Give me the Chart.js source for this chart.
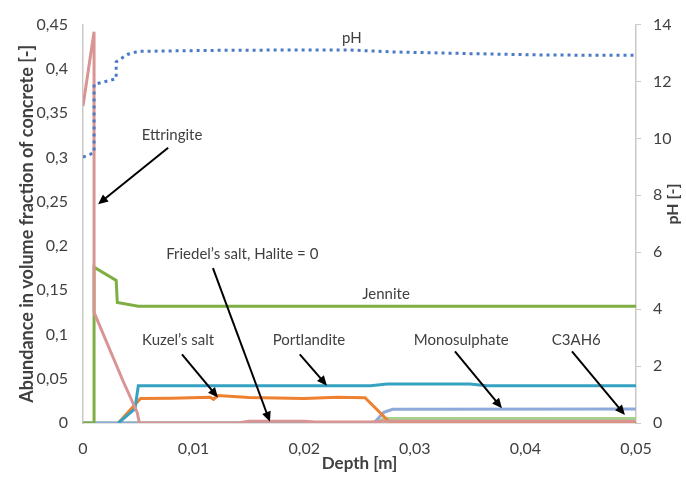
<!DOCTYPE html>
<html>
<head>
<meta charset="utf-8">
<script src="https://cdn.jsdelivr.net/npm/chart.js@4/dist/chart.umd.min.js"></script>
<style>
  body { margin: 0; background: #fff; }
  #wrap { width: 686px; height: 486px; position: relative; }
</style>
</head>
<body>
<div id="wrap"><canvas id="myChart"></canvas></div>
<script>
// depth [m] and abundance values
var ettringiteDepth = [0, 0.001, 0.001, 0.0036, 0.0049, 0.0051, 0.014, 0.015, 0.02, 0.021, 0.026, 0.027, 0.05];
var ettringiteValue = [0.358, 0.442, 0.125, 0.048, 0.012, 0, 0, 0.002, 0.002, 0.001, 0.001, 0.002, 0.002];

var jenniteDepth = [0, 0.001, 0.001, 0.003, 0.0031, 0.005, 0.05];
var jenniteValue = [0, 0, 0.176, 0.161, 0.136, 0.132, 0.132];

var portlanditeDepth = [0.0032, 0.0047, 0.005, 0.015, 0.026, 0.0275, 0.035, 0.0365, 0.05];
var portlanditeValue = [0, 0.016, 0.042, 0.042, 0.042, 0.044, 0.044, 0.042, 0.042];

var kuzelDepth = [0.0032, 0.0052, 0.008, 0.0115, 0.0118, 0.0122, 0.015, 0.02, 0.023, 0.0255, 0.0278, 0.05];
var kuzelValue = [0, 0.0277, 0.028, 0.0292, 0.0268, 0.031, 0.0287, 0.0277, 0.029, 0.0285, 0, 0];

var monosulphateDepth = [0, 0.0263, 0.0272, 0.028, 0.05];
var monosulphateValue = [0, 0, 0.012, 0.0155, 0.0158];

var c3ah6Depth = [0, 0.0265, 0.0272, 0.05];
var c3ah6Value = [0, 0, 0.005, 0.005];

var friedelDepth = [0, 0.05];
var friedelValue = [0, 0];

var phDepth = [0, 0.001, 0.001, 0.003, 0.003, 0.004, 0.005, 0.013, 0.024, 0.028, 0.035, 0.042, 0.05];
var phValue = [9.34, 9.5, 11.9, 12.1, 12.69, 12.95, 13.06, 13.1, 13.11, 13.04, 12.98, 12.93, 12.92];

var xTicks = [0, 0.01, 0.02, 0.03, 0.04, 0.05];

// text labels with arrows, in data units (depth, abundance)
var notes = [
    { text: "pH", x: 0.0243, y: 0.4345 },
    { text: "Ettringite", x: 0.00805, y: 0.325, from: [0.0077, 0.311], to: [0.00136, 0.247] },
    { text: "Friedel\u2019s salt, Halite = 0", x: 0.0144, y: 0.1906, from: [0.01175, 0.175], to: [0.0169, 0.0014] },
    { text: "Jennite", x: 0.0274, y: 0.145 },
    { text: "Kuzel\u2019s salt", x: 0.0086, y: 0.094, from: [0.00895, 0.0776], to: [0.0122, 0.0288] },
    { text: "Portlandite", x: 0.02043, y: 0.094, from: [0.0196, 0.0776], to: [0.02206, 0.0421] },
    { text: "Monosulphate", x: 0.0342, y: 0.094, from: [0.03363, 0.0809], to: [0.03788, 0.0166] },
    { text: "C3AH6", x: 0.0446, y: 0.094, from: [0.04421, 0.0809], to: [0.049, 0.0089] }
];

function pts(d, v) {
    return d.map(function (x, k) { return { x: x, y: v[k] }; });
}

function comma(v) {
    return Number(v.toFixed(3)).toString().replace(".", ",");
}

var textColor = "#404040";
var font = "Lato";

var notesPlugin = {
    id: "notes",
    afterDatasetsDraw: function (chart) {
        var ctx = chart.ctx, xs = chart.scales.x, ys = chart.scales.y;
        ctx.save();
        ctx.font = "15px " + font;
        ctx.fillStyle = textColor;
        ctx.textAlign = "center";
        ctx.textBaseline = "middle";
        notes.forEach(function (n) {
            ctx.fillText(n.text, xs.getPixelForValue(n.x), ys.getPixelForValue(n.y));
            if (!n.from) return;
            var x1 = xs.getPixelForValue(n.from[0]), y1 = ys.getPixelForValue(n.from[1]);
            var x2 = xs.getPixelForValue(n.to[0]), y2 = ys.getPixelForValue(n.to[1]);
            var a = Math.atan2(y2 - y1, x2 - x1);
            var hl = 10, hw = 4.5;
            ctx.strokeStyle = "#000";
            ctx.lineWidth = 2;
            ctx.beginPath();
            ctx.moveTo(x1, y1);
            ctx.lineTo(x2 - Math.cos(a) * hl * 0.8, y2 - Math.sin(a) * hl * 0.8);
            ctx.stroke();
            ctx.fillStyle = "#000";
            ctx.beginPath();
            ctx.moveTo(x2, y2);
            ctx.lineTo(x2 - Math.cos(a) * hl - Math.sin(a) * hw, y2 - Math.sin(a) * hl + Math.cos(a) * hw);
            ctx.lineTo(x2 - Math.cos(a) * hl + Math.sin(a) * hw, y2 - Math.sin(a) * hl - Math.cos(a) * hw);
            ctx.closePath();
            ctx.fill();
            ctx.fillStyle = textColor;
        });
        // right axis title, reads bottom to top
        ctx.font = "bold 16px " + font;
        ctx.translate(673, 204);
        ctx.rotate(-Math.PI / 2);
        ctx.fillText("pH [-]", 0, 0);
        ctx.restore();
    }
};

function line(label, d, v, color, axis) {
    return {
        label: label,
        data: pts(d, v),
        borderColor: color,
        borderWidth: 3,
        pointRadius: 0,
        tension: 0,
        fill: false,
        yAxisID: axis || "y"
    };
}

var phSet = line("pH", phDepth, phValue, "#4a7bc4", "y1");
phSet.borderDash = [3, 4];

new Chart("myChart", {
    type: "line",
    data: {
        datasets: [
            phSet,
            line("Ettringite", ettringiteDepth, ettringiteValue, "#d99594"),
            line("Jennite", jenniteDepth, jenniteValue, "#7fae44"),
            line("Portlandite", portlanditeDepth, portlanditeValue, "#35a2c2"),
            line("Kuzel's salt", kuzelDepth, kuzelValue, "#ee8030"),
            line("Monosulphate", monosulphateDepth, monosulphateValue, "#8eaadb"),
            line("C3AH6", c3ah6Depth, c3ah6Value, "#a9d18e"),
            line("Friedel's salt", friedelDepth, friedelValue, "#b5d48f")
        ]
    },
    options: {
        responsive: true,
        maintainAspectRatio: false,
        animation: false,
        layout: { padding: { top: 17, left: 0, right: 0, bottom: 0 } },
        plugins: { legend: { display: false }, tooltip: { enabled: false } },
        scales: {
            x: {
                type: "linear",
                min: 0,
                max: 0.05,
                afterBuildTicks: function (s) { s.ticks = xTicks.map(function (v) { return { value: v }; }); },
                afterFit: function (s) { s.height = 63; },
                ticks: { padding: 16, color: textColor, font: { family: font, size: 16 }, callback: comma },
                grid: { display: false, drawTicks: false },
                border: { color: "#c8c8c8", width: 1.5 },
                title: { display: true, text: "Depth [m]", color: textColor, font: { family: font, size: 17, weight: "bold" }, padding: { top: 0, bottom: 12 } }
            },
            y: {
                position: "left",
                min: 0,
                max: 0.45,
                afterFit: function (s) { s.width = 83; },
                ticks: { stepSize: 0.05, padding: 15, color: textColor, font: { family: font, size: 16 }, callback: comma },
                grid: { display: false, drawTicks: false },
                border: { color: "#c8c8c8", width: 1.5 },
                title: { display: true, text: "Abundance in volume fraction of concrete [-]", color: textColor, font: { family: font, size: 18, weight: "bold" }, padding: { top: 16, bottom: 0 } }
            },
            y1: {
                position: "right",
                min: 0,
                max: 14,
                afterFit: function (s) { s.width = 50; },
                ticks: { stepSize: 2, padding: 12, color: textColor, font: { family: font, size: 16 } },
                grid: { display: true, drawOnChartArea: false, drawTicks: true, tickLength: 5, color: "#c8c8c8" },
                border: { color: "#c8c8c8", width: 1.5 }
            }
        }
    },
    plugins: [notesPlugin]
});
</script>
</body>
</html>
